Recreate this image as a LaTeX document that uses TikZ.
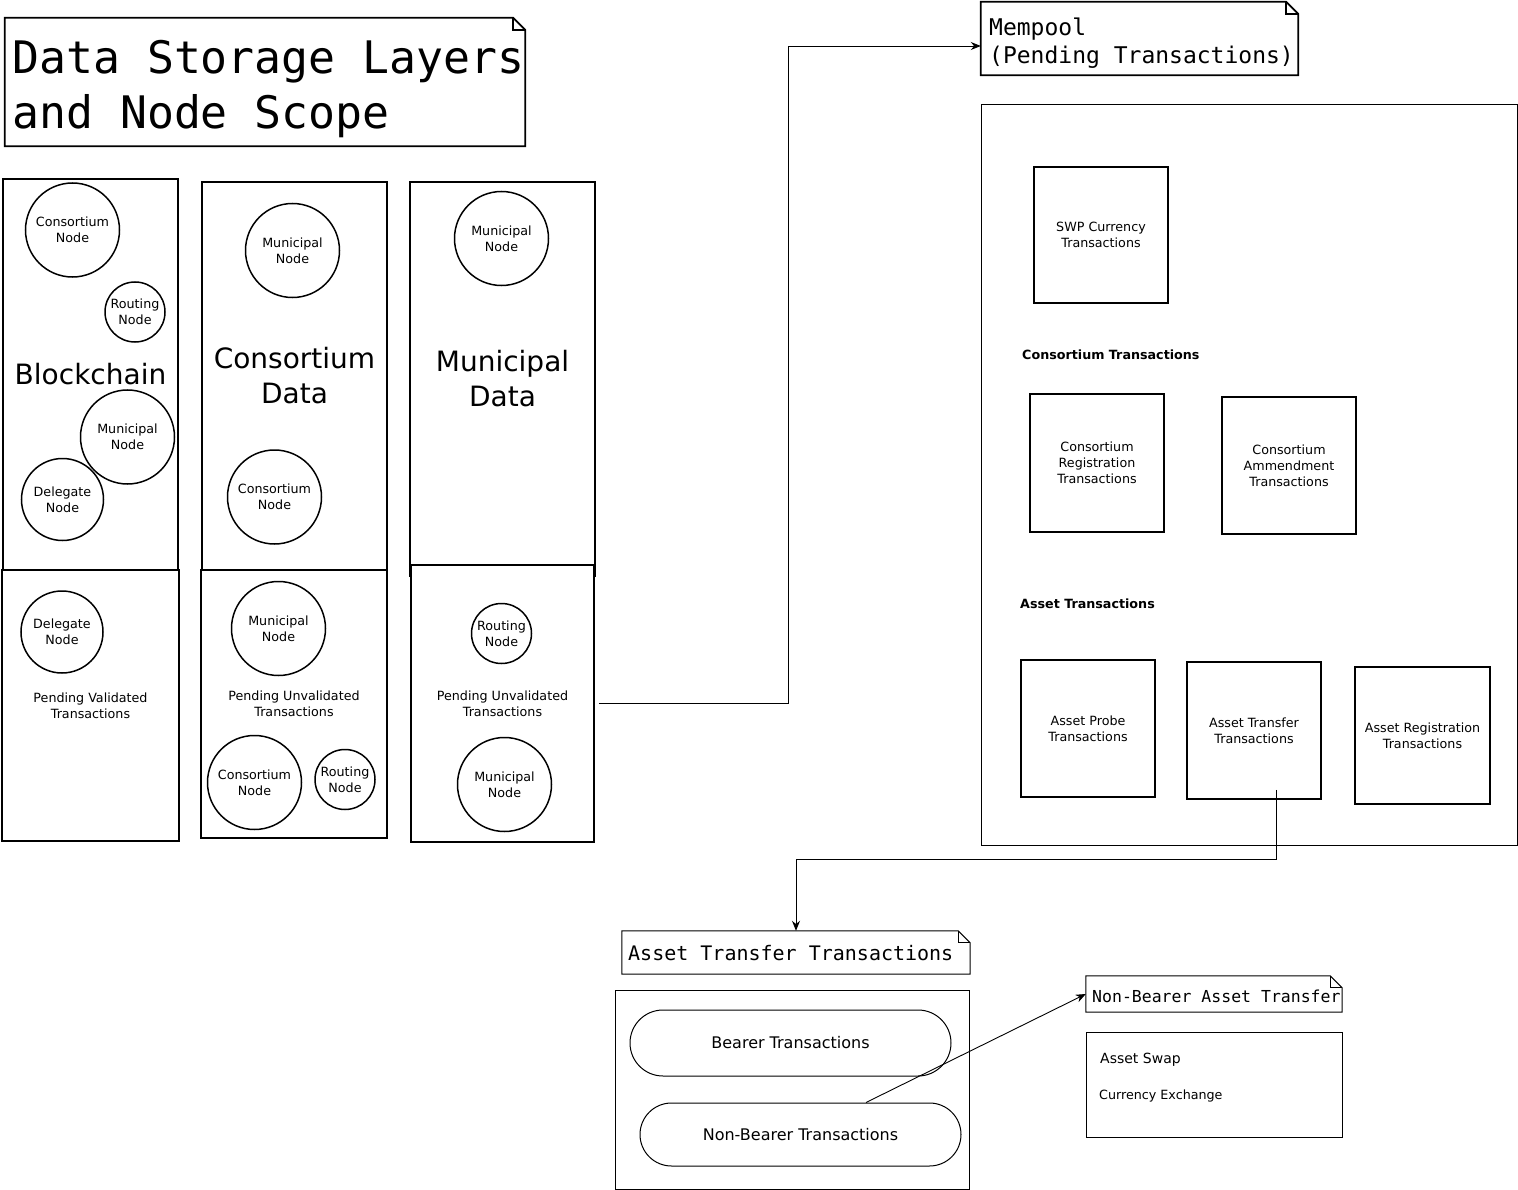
\documentclass[tikz,border=0pt]{standalone}
\usepackage{fontspec}
\setmainfont{DejaVu Sans}
\newfontfamily\monof{DejaVu Sans Mono}
\usetikzlibrary{shapes.misc,arrows.meta}
\newcommand{\fsmall}{\fontsize{12.7}{16}\selectfont}
\newcommand{\fbig}{\fontsize{28}{35}\selectfont}
\newcommand{\dognote}[3][line width=1pt]{%
  \draw[#1] (#2.north west) -- ([xshift=-#3]#2.north east) -- ([yshift=-#3]#2.north east) -- (#2.south east) -- (#2.south west) -- cycle;
  \draw[#1] ([xshift=-#3]#2.north east) |- ([yshift=-#3]#2.north east);}
\tikzset{
  col/.style={draw, line width=1.8pt, inner sep=0pt, align=center, font=\fbig},
  lowcol/.style={draw, fill=white, line width=1.8pt, inner sep=0pt, align=center, font=\fsmall},
  cnode/.style={draw, circle, line width=1.5pt, inner sep=0pt, align=center, font=\fsmall},
  ibox/.style={draw, line width=1.8pt, inner sep=0pt, align=center, font=\fsmall, minimum width=134pt, minimum height=137pt},
  thinbox/.style={draw, line width=1pt, inner sep=0pt},
  notebox/.style={draw=none, inner sep=0pt},
  pill/.style={draw, rounded rectangle, line width=1pt, inner sep=0pt, minimum width=321pt, font=\fontsize{16}{19}\selectfont},
  lbl/.style={inner sep=0pt, anchor=base west},
  arr/.style={line width=0.9pt, -{Stealth[length=10pt,width=8pt]}}
}
\begin{document}
\begin{tikzpicture}[x=1pt,y=-1pt]
\useasboundingbox[fill=white] (0,0) rectangle (1518,1190);

% title note
\node[notebox, minimum width=520pt, minimum height=128pt] (title) at (265,82) {};
\dognote[line width=1.8pt]{title}{12pt}
\node[inner sep=0pt, anchor=north west, align=left, font=\monof\fontsize{44.8}{55}\selectfont] (titletxt) at (12,40) {Data Storage Layers\\and Node Scope};

% columns
\node[col, minimum width=175pt, minimum height=391pt] (c1t) at (90.5,374.5) {Blockchain};
\node[lowcol, minimum width=177pt, minimum height=271pt] (c1b) at (90.5,705.5) {Pending Validated\\Transactions};
\node[col, minimum width=185pt, minimum height=388pt] (c2t) at (294.5,376) {Consortium\\Data};
\node[lowcol, minimum width=186pt, minimum height=268pt] (c2b) at (294,704) {Pending Unvalidated\\Transactions};
\node[col, minimum width=185pt, minimum height=394pt] (c3t) at (502.5,379) {Municipal\\Data};
\node[lowcol, minimum width=183pt, minimum height=277pt] (c3b) at (502.5,703.5) {Pending Unvalidated\\Transactions};

% circles
\node[cnode, minimum size=94pt] (n1) at (72.5,230) {Consortium\\Node};
\node[cnode, minimum size=60pt] (n2) at (135,312) {Routing\\Node};
\node[cnode, minimum size=94pt] (n3) at (127.5,437) {Municipal\\Node};
\node[cnode, minimum size=82pt] (n4) at (62.5,499.5) {Delegate\\Node};
\node[cnode, minimum size=82pt] (n5) at (62,632) {Delegate\\Node};
\node[cnode, minimum size=94pt] (n6) at (292.5,250.5) {Municipal\\Node};
\node[cnode, minimum size=94pt] (n7) at (274.5,497) {Consortium\\Node};
\node[cnode, minimum size=94pt] (n8) at (278.5,628.5) {Municipal\\Node};
\node[cnode, minimum size=94pt] (n9) at (254.5,782.5) {Consortium\\Node};
\node[cnode, minimum size=60pt] (n10) at (345,779.5) {Routing\\Node};
\node[cnode, minimum size=94pt] (n11) at (501.5,238.5) {Municipal\\Node};
\node[cnode, minimum size=60pt] (n12) at (501.5,633.5) {Routing\\Node};
\node[cnode, minimum size=94pt] (n13) at (504.5,784.5) {Municipal\\Node};

% mempool note
\node[notebox, minimum width=317pt, minimum height=73pt] (mpnote) at (1139.5,38.5) {};
\dognote[line width=1.8pt]{mpnote}{12pt}
\node[inner sep=0pt, anchor=north west, align=left, font=\monof\fontsize{23}{28}\selectfont] (mptxt) at (989,17.5) {Mempool\\(Pending Transactions)};

% mempool container
\node[thinbox, minimum width=536pt, minimum height=740pt] (mp) at (1249,475) {};
\node[ibox, minimum height=136pt] (swp) at (1101,235) {SWP Currency\\Transactions};
\node[lbl, font=\fsmall\bfseries] (ctlbl) at (1022,359.6) {Consortium Transactions};
\node[ibox, minimum height=138pt] (creg) at (1097,463) {Consortium\\Registration\\Transactions};
\node[ibox] (camd) at (1289,465.5) {Consortium\\Ammendment\\Transactions};
\node[lbl, font=\fsmall\bfseries] (atlbl) at (1020,608.6) {Asset Transactions};
\node[ibox] (aprobe) at (1088,728.5) {Asset Probe\\Transactions};
\node[ibox] (atx) at (1254,730.5) {Asset Transfer\\Transactions};
\node[ibox, minimum width=135pt] (areg) at (1422.5,735.5) {Asset Registration\\Transactions};

% asset transfer note
\node[notebox, minimum width=348pt, minimum height=43pt] (attnote) at (796,952.5) {};
\dognote{attnote}{12pt}
\node[lbl, font=\monof\fontsize{20}{24}\selectfont] (atttxt) at (628,960) {Asset Transfer Transactions};
\node[thinbox, minimum width=354pt, minimum height=199pt] (attbox) at (792,1089.5) {};
\node[pill, minimum height=66pt] (bt) at (790.5,1043) {Bearer Transactions};
\node[pill, minimum height=63pt] (nbt) at (800.5,1134.5) {Non-Bearer Transactions};

% non-bearer note
\node[notebox, minimum width=256pt, minimum height=36pt] (nbanote) at (1214,994) {};
\dognote{nbanote}{12pt}
\node[lbl, font=\monof\fontsize{16.5}{20}\selectfont] (nbatxt) at (1092,1002) {Non-Bearer Asset Transfer};
\node[thinbox, minimum width=256pt, minimum height=105pt] (swapbox) at (1214,1084.5) {};
\node[lbl, font=\fontsize{14}{17}\selectfont] (swaptxt) at (1100,1063) {Asset Swap};
\node[lbl, font=\fsmall] (curtxt) at (1099,1099.6) {Currency Exchange};

% connectors
\draw[arr] ([xshift=4pt]c3b.east) -- ++(190,0) |- ([yshift=-7.5pt]mpnote.west);
\draw[arr] ([xshift=22pt,yshift=10pt]atx.south) -- ++(0,70) -| (attnote.north);
\draw[arr] ([xshift=65.5pt]nbt.north) -- (nbanote.west);
\end{tikzpicture}
\end{document}
